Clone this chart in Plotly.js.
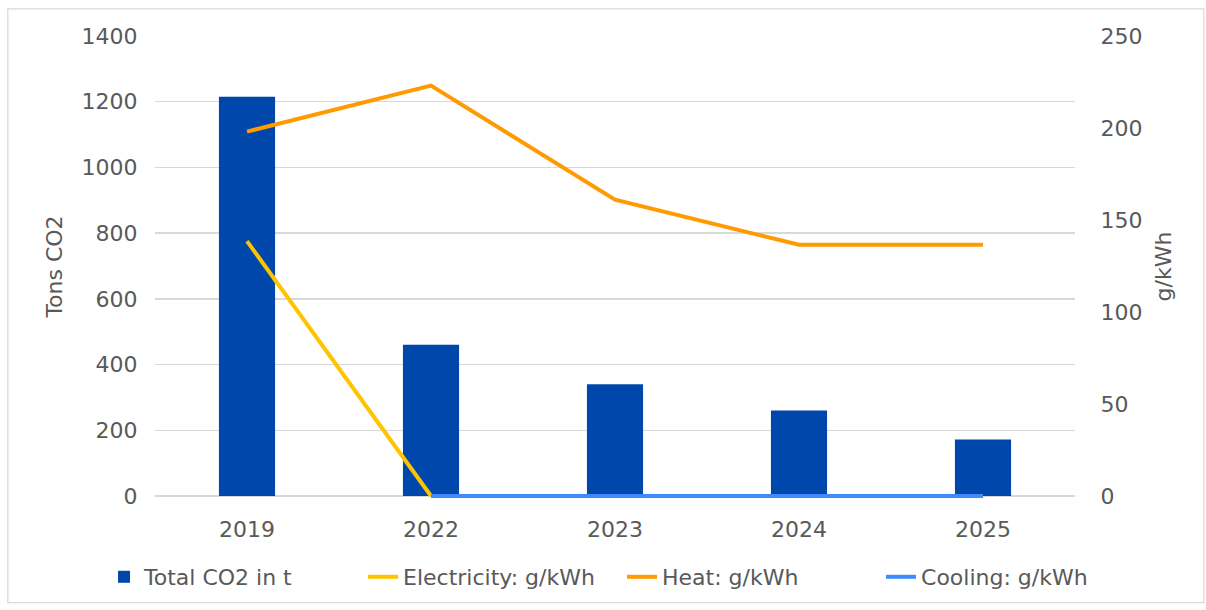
<!DOCTYPE html>
<html>
<head>
<meta charset="utf-8">
<script src="https://cdn.plot.ly/plotly-3.0.1.min.js"></script>
<style>html,body{margin:0;padding:0;background:#fff;}#chart{width:1206px;height:610px;}</style>
</head>
<body>
<div id="chart"></div>
<script>
const years = ['2019', '2022', '2023', '2024', '2025'];
const totalCO2 = [1215, 460, 340, 260, 172];
const electricity = [138.5, 0, null, null, null];
const heat = [198, 223, 161, 136.5, 136.5];
const cooling = [null, 0, 0, 0, 0];
const leftTicks = [0, 200, 400, 600, 800, 1000, 1200, 1400];
const rightTicks = [0, 50, 100, 150, 200, 250];

const FONT = 'Verdana, "DejaVu Sans", sans-serif';
const TXT = '#595959';
const FS = 22;

const traces = [
  {type: 'bar', x: years, y: totalCO2, name: 'Total CO2 in t', marker: {color: '#0047AB'}, width: 0.305, yaxis: 'y'},
  {type: 'scatter', mode: 'lines', x: years, y: electricity, name: 'Electricity: g/kWh', line: {color: '#FFC400', width: 4}, yaxis: 'y2'},
  {type: 'scatter', mode: 'lines', x: years, y: heat, name: 'Heat: g/kWh', line: {color: '#FF9A00', width: 4}, yaxis: 'y2'},
  {type: 'scatter', mode: 'lines', x: years, y: cooling, name: 'Cooling: g/kWh', line: {color: '#3D8BFF', width: 4}, yaxis: 'y2'}
];

const layout = {
  width: 1206, height: 610,
  margin: {l: 155, r: 131, t: 35, b: 112},
  paper_bgcolor: '#fff', plot_bgcolor: '#fff',
  font: {family: FONT, size: FS, color: TXT},
  showlegend: true,
  legend: {orientation: 'h', xref: 'paper', yref: 'paper', x: -0.0554, xanchor: 'left', y: -0.1706, yanchor: 'middle',
    font: {size: FS, color: TXT}, traceorder: 'normal', itemwidth: 30, entrywidth: 214, entrywidthmode: 'pixels'},
  xaxis: {type: 'category', showgrid: false, zeroline: false, showline: false, ticks: 'outside', ticklen: 12, tickcolor: 'rgba(0,0,0,0)', tickfont: {size: FS, color: TXT}},
  yaxis: {range: [-6.1, 1403], tickvals: leftTicks, showgrid: true, gridcolor: '#d9d9d9', gridwidth: 1.3, zeroline: false, showline: false, ticks: 'outside', ticklen: 12, tickcolor: 'rgba(0,0,0,0)',
    title: {text: 'Tons CO2', font: {size: FS, color: TXT}, standoff: 12}, tickfont: {size: FS, color: TXT}},
  yaxis2: {range: [-1.1, 250.5], tickvals: rightTicks, overlaying: 'y', side: 'right', showgrid: false, zeroline: false, showline: false, ticks: 'outside', ticklen: 20, tickcolor: 'rgba(0,0,0,0)',
    title: {text: 'g/kWh', font: {size: FS, color: TXT}, standoff: 14}, tickfont: {size: FS, color: TXT}},
  shapes: [
    {type: 'rect', xref: 'paper', yref: 'paper', x0: -0.16, x1: 1.14, y0: -0.226, y1: 1.0565, line: {color: '#d9d9d9', width: 1.3}, fillcolor: 'rgba(0,0,0,0)', layer: 'below'}
  ]
};

Plotly.newPlot('chart', traces, layout, {displayModeBar: false, staticPlot: true});
</script>
</body>
</html>
